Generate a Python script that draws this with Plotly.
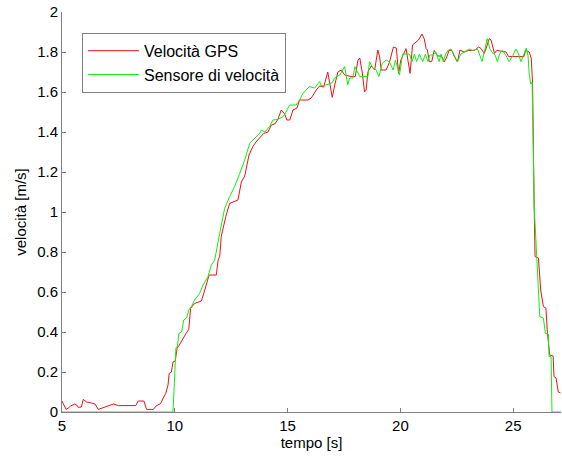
import plotly.graph_objects as go

# Velocità GPS (red)
gps_t = [5.00, 5.10, 5.18, 5.28, 5.38, 5.57, 5.65, 5.72, 5.86, 5.94, 6.09, 6.20, 6.31, 6.46, 6.61, 6.83,
         7.05, 7.28, 7.50, 7.87, 8.27, 8.38, 8.63, 8.75, 9.05, 9.17, 9.38, 9.48, 9.60, 9.70, 9.75, 9.85,
         9.92, 10.02, 10.10, 10.20, 10.35, 10.50, 10.62, 10.70, 10.88, 11.18, 11.33, 11.52, 11.84, 11.92,
         11.99, 12.06, 12.26, 12.43, 12.58, 12.80, 12.95, 13.10, 13.29, 13.46, 13.60, 13.76, 13.94, 14.13,
         14.28, 14.43, 14.57, 14.72, 14.87, 14.97, 15.10, 15.24, 15.42, 15.53, 15.90, 16.05, 16.27, 16.42,
         16.60, 16.78, 16.86, 16.98, 17.10, 17.23, 17.38, 17.53, 17.82, 18.00, 18.12, 18.20, 18.32, 18.41,
         18.48, 18.56, 18.71, 18.86, 19.00, 19.08, 19.15, 19.37, 19.52, 19.69, 19.82, 19.92, 20.02, 20.25,
         20.43, 20.54, 20.80, 20.96, 21.06, 21.14, 21.20, 21.28, 21.39, 21.50, 21.65, 21.80, 21.87, 21.94,
         22.04, 22.16, 22.28, 22.38, 22.53, 22.64, 22.83, 23.03, 23.28, 23.47, 23.57, 23.72, 23.82, 23.94,
         24.02, 24.17, 24.27, 24.41, 24.58, 24.68, 24.80, 25.48, 25.55, 25.71, 25.80, 25.86, 25.93, 25.97,
         26.12, 26.22, 26.34, 26.45, 26.52, 26.62, 26.77, 26.81, 26.90, 27.00, 27.10]
gps_v = [0.055, 0.030, 0.013, 0.020, 0.030, 0.040, 0.035, 0.023, 0.025, 0.063, 0.050, 0.048, 0.043, 0.040, 0.013, 0.023,
         0.030, 0.040, 0.032, 0.032, 0.032, 0.055, 0.055, 0.013, 0.013, 0.030, 0.043, 0.068, 0.093, 0.135, 0.193, 0.200,
         0.250, 0.255, 0.318, 0.335, 0.368, 0.393, 0.413, 0.518, 0.543, 0.555, 0.610, 0.685, 0.685, 0.760,
         0.777, 0.877, 0.977, 1.043, 1.050, 1.060, 1.150, 1.180, 1.285, 1.327, 1.350, 1.368, 1.393, 1.400,
         1.435, 1.440, 1.463, 1.510, 1.490, 1.460, 1.460, 1.510, 1.520, 1.560, 1.560, 1.570, 1.610, 1.630,
         1.625, 1.700, 1.640, 1.573, 1.640, 1.700, 1.710, 1.685, 1.677, 1.677, 1.760, 1.770, 1.690, 1.600,
         1.610, 1.700, 1.730, 1.710, 1.810, 1.775, 1.710, 1.710, 1.750, 1.825, 1.820, 1.693, 1.760, 1.817,
         1.693, 1.835, 1.860, 1.890, 1.865, 1.817, 1.810, 1.752, 1.752, 1.808, 1.780, 1.780, 1.770, 1.750,
         1.770, 1.808, 1.808, 1.780, 1.750, 1.810, 1.800, 1.808, 1.808, 1.825, 1.818, 1.793, 1.825, 1.867,
         1.860, 1.793, 1.808, 1.805, 1.800, 1.800, 1.777, 1.777, 1.808, 1.800, 1.770, 1.643, 1.027, 0.777,
         0.770, 0.610, 0.527, 0.520, 0.393, 0.285, 0.280, 0.177, 0.170, 0.100, 0.095]

# Sensore di velocità (green)
sens_t = [5.00, 9.92, 10.05, 10.12, 10.18, 10.30, 10.40, 10.52, 10.62, 10.75, 10.88, 11.10, 11.25, 11.47,
          11.62, 11.77, 11.99, 12.21, 12.43, 12.65, 12.88, 13.10, 13.32, 13.54, 13.76, 13.84, 13.99, 14.20,
          14.35, 14.57, 14.80, 14.93, 15.09, 15.38, 15.53, 15.68, 15.83, 15.97, 16.20, 16.42, 16.50, 16.86,
          17.00, 17.08, 17.31, 17.53, 17.67, 17.75, 17.90, 17.98, 18.20, 18.56, 18.63, 18.78, 18.93, 19.05,
          19.20, 19.37, 19.52, 19.68, 19.78, 19.96, 20.10, 20.40, 20.52, 20.62, 20.72, 20.84, 20.99, 21.11,
          21.22, 21.30, 21.45, 21.57, 21.72, 21.80, 21.90, 22.01, 22.13, 22.24, 22.38, 22.53, 22.68, 22.83,
          22.95, 23.05, 23.20, 23.42, 23.62, 23.72, 23.85, 23.97, 24.05, 24.20, 24.30, 24.40, 24.52, 24.67,
          24.82, 25.00, 25.12, 25.24, 25.34, 25.48, 25.58, 25.66, 25.71, 25.78, 25.84, 25.93, 26.04, 26.12,
          26.18, 26.34, 26.43, 26.56, 26.59, 26.68, 26.72, 27.10]
sens_v = [0.0, 0.0, 0.320, 0.330, 0.393, 0.400, 0.460, 0.470, 0.510, 0.530, 0.560, 0.593, 0.635, 0.677,
          0.735, 0.760, 0.893, 1.018, 1.077, 1.127, 1.193, 1.260, 1.343, 1.368, 1.393, 1.410, 1.400, 1.427,
          1.460, 1.463, 1.477, 1.500, 1.535, 1.535, 1.560, 1.593, 1.610, 1.627, 1.620, 1.652, 1.630, 1.640,
          1.650, 1.670, 1.685, 1.727, 1.635, 1.670, 1.670, 1.727, 1.677, 1.677, 1.752, 1.720, 1.710, 1.677,
          1.743, 1.760, 1.750, 1.710, 1.760, 1.685, 1.790, 1.790, 1.752, 1.790, 1.752, 1.790, 1.752, 1.790,
          1.752, 1.785, 1.785, 1.800, 1.752, 1.790, 1.752, 1.790, 1.810, 1.815, 1.785, 1.752, 1.790, 1.800,
          1.808, 1.815, 1.808, 1.815, 1.752, 1.808, 1.867, 1.815, 1.800, 1.785, 1.752, 1.790, 1.808, 1.785,
          1.752, 1.785, 1.815, 1.790, 1.752, 1.790, 1.820, 1.780, 1.690, 1.640, 1.650, 1.030, 0.760, 0.610,
          0.477, 0.470, 0.393, 0.390, 0.277, 0.277, 0.0, 0.0]

x_ticks = [5, 10, 15, 20, 25]
y_ticks = [0, 0.2, 0.4, 0.6, 0.8, 1, 1.2, 1.4, 1.6, 1.8, 2]
y_ticktext = ["0", "0.2", "0.4", "0.6", "0.8", "1", "1.2", "1.4", "1.6", "1.8", "2"]

fig = go.Figure()
fig.add_trace(go.Scatter(x=gps_t, y=gps_v, mode="lines", name="Velocità GPS",
                         line=dict(color="#ee1111", width=1)))
fig.add_trace(go.Scatter(x=sens_t, y=sens_v, mode="lines", name="Sensore di velocità",
                         line=dict(color="#11ee11", width=1)))

axis_common = dict(showgrid=False, zeroline=False, showline=True, linecolor="#808080", linewidth=1,
                   ticks="inside", ticklen=4, tickcolor="#808080", mirror=False,
                   tickfont=dict(size=15, color="black"))

fig.update_layout(
    width=562, height=457,
    margin=dict(l=62, r=1, t=12, b=45),
    paper_bgcolor="white", plot_bgcolor="white",
    font=dict(family="Liberation Sans, Arial, sans-serif", size=15, color="black"),
    xaxis=dict(range=[5, 27.12], tickvals=x_ticks,
               title=dict(text="tempo [s]", standoff=3, font=dict(size=15)), **axis_common),
    yaxis=dict(range=[0, 2], tickvals=y_ticks, ticktext=y_ticktext,
               title=dict(text="velocità [m/s]", standoff=6, font=dict(size=15)), **axis_common),
    legend=dict(x=0.04, y=0.948, xanchor="left", yanchor="top", bgcolor="white",
                bordercolor="#808080", borderwidth=1, font=dict(size=16),
                tracegroupgap=0, itemwidth=51),
    showlegend=True,
)

fig.write_html("out.html")
